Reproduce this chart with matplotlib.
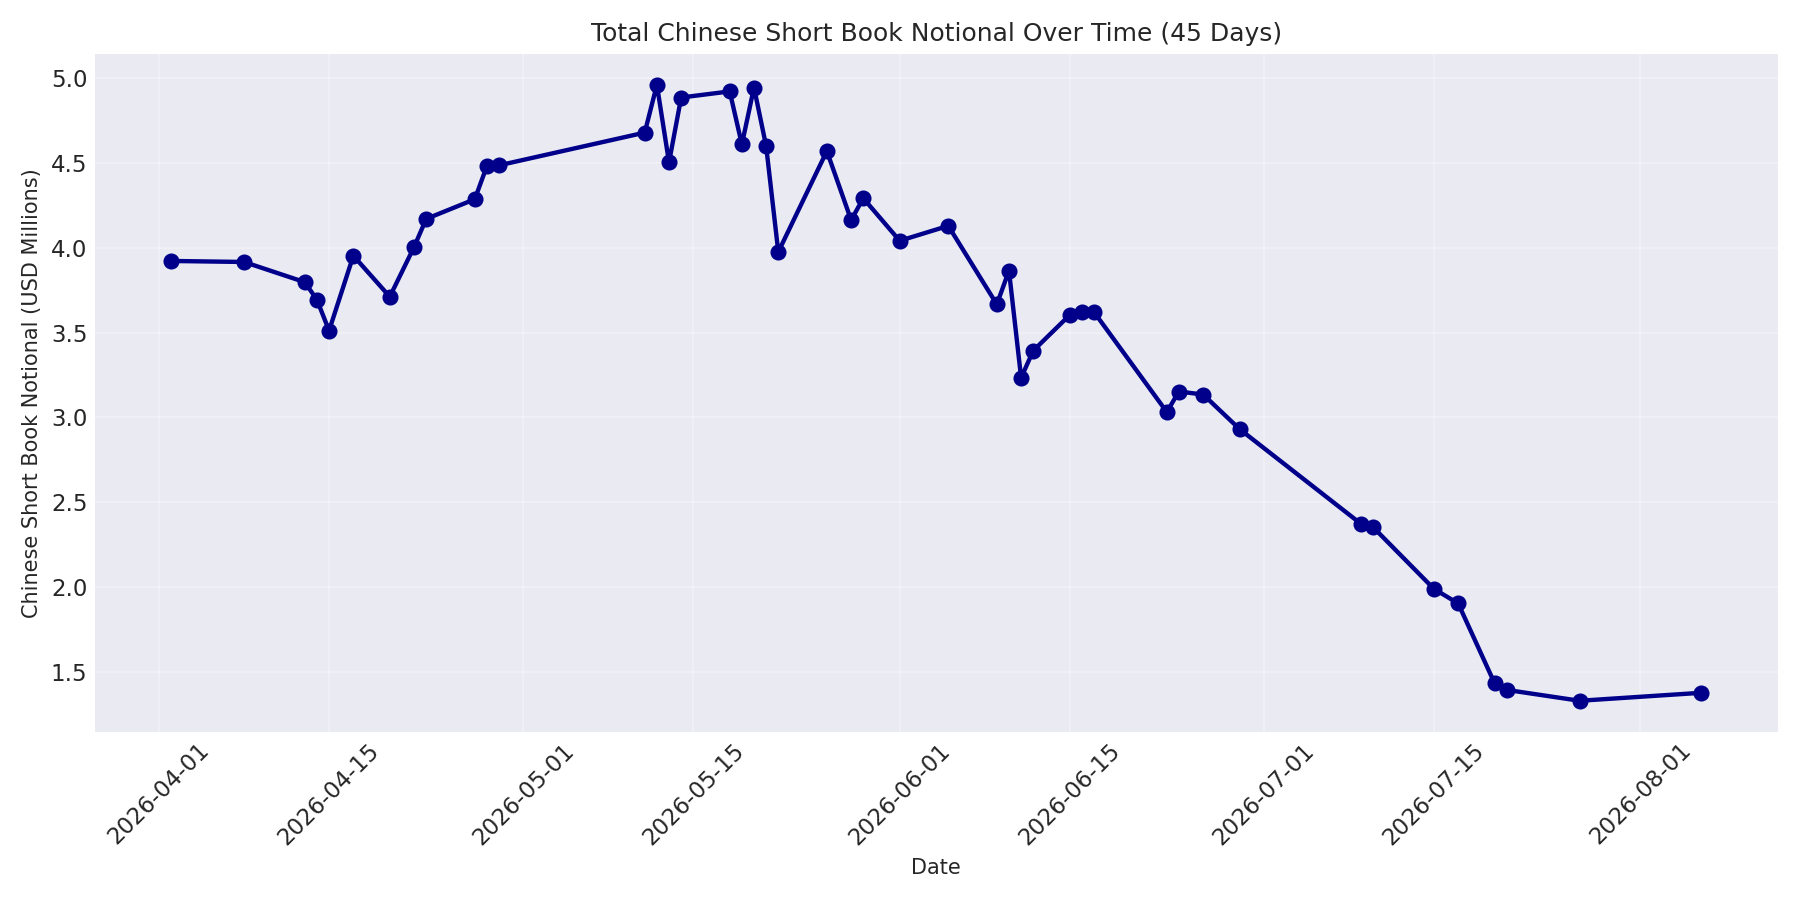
import pandas as pd
import matplotlib
matplotlib.use('Agg')
from matplotlib import pyplot as plt

# dates and notional (USD millions)
dates = ['2026-04-02', '2026-04-08', '2026-04-13', '2026-04-14', '2026-04-15',
         '2026-04-17', '2026-04-20', '2026-04-22', '2026-04-23', '2026-04-27',
         '2026-04-28', '2026-04-29', '2026-05-11', '2026-05-12', '2026-05-13',
         '2026-05-14', '2026-05-18', '2026-05-19', '2026-05-20', '2026-05-21',
         '2026-05-22', '2026-05-26', '2026-05-28', '2026-05-29', '2026-06-01',
         '2026-06-05', '2026-06-09', '2026-06-10', '2026-06-11', '2026-06-12',
         '2026-06-15', '2026-06-16', '2026-06-17', '2026-06-23', '2026-06-24',
         '2026-06-26', '2026-06-29', '2026-07-09', '2026-07-10', '2026-07-15',
         '2026-07-17', '2026-07-20', '2026-07-21', '2026-07-27', '2026-08-06']
notional = [3.922, 3.916, 3.797, 3.693, 3.511,
            3.953, 3.711, 4.004, 4.170, 4.286,
            4.482, 4.486, 4.679, 4.961, 4.503,
            4.886, 4.922, 4.609, 4.945, 4.599,
            3.975, 4.570, 4.163, 4.292, 4.041,
            4.129, 3.666, 3.865, 3.233, 3.393,
            3.603, 3.621, 3.621, 3.031, 3.152,
            3.134, 2.930, 2.371, 2.351, 1.988,
            1.902, 1.431, 1.392, 1.328, 1.375]

x = pd.to_datetime(dates)

plt.style.use('seaborn-v0_8-darkgrid')
plt.rcParams['font.family'] = ['DejaVu Sans']
fig, ax = plt.subplots(figsize=(12, 6), dpi=150)
ax.plot(x, notional, 'o-', color='darkblue', linewidth=2.1, markersize=6.7)
ax.set_title('Total Chinese Short Book Notional Over Time (%d Days)' % len(dates), fontsize=12)
ax.set_xlabel('Date', fontsize=10)
ax.set_ylabel('Chinese Short Book Notional (USD Millions)', fontsize=10)
ax.tick_params(axis='both', labelsize=11)
ax.grid(True, alpha=0.3)
plt.xticks(rotation=45)
plt.tight_layout()
plt.savefig('out.png')
